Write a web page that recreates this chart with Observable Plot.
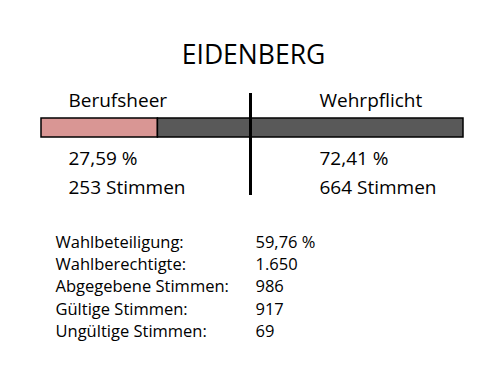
<!DOCTYPE html>
<html><head><meta charset="utf-8">
<script src="https://cdn.jsdelivr.net/npm/d3@7"></script>
<script src="https://cdn.jsdelivr.net/npm/@observablehq/plot@0.6"></script>
<style>body{margin:0;background:#fff}</style>
</head><body><div id="chart"></div>
<script>
const title = "EIDENBERG";
const options = ["Berufsheer", "Wehrpflicht"];
const shares = [27.59, 72.41];
const votes = [253, 664];
const colors = ["#d99694", "#595959"];
const statLabels = ["Wahlbeteiligung:", "Wahlberechtigte:", "Abgegebene Stimmen:", "Gültige Stimmen:", "Ungültige Stimmen:"];
const statValues = ["59,76 %", "1.650", "986", "917", "69"];
const threshold = 50;

let acc = 0;
const segs = options.map((o, i) => { const s = {option: o, x1: acc, x2: acc + shares[i], color: colors[i]}; acc += shares[i]; return s; });
const fmt = v => v.toFixed(2).replace(".", ",") + " %";
const font = "Open Sans, sans-serif";
const colX = [68, 319];

const marks = [
  Plot.text([title], {text: d => d, frameAnchor: "top-left", dx: 253, dy: 55, textAnchor: "middle", lineAnchor: "middle", fontSize: 26.5, fill: "#000"}),
  Plot.barX(segs, {x1: "x1", x2: "x2", fill: "color", stroke: "#000", strokeWidth: 1.5, insetTop: 118, insetBottom: 238}),
  Plot.ruleX([threshold], {stroke: "#000", strokeWidth: 3, insetTop: 93, insetBottom: 180, dx: -2}),
];
options.forEach((o, i) => {
  marks.push(Plot.text([o], {text: d => d, frameAnchor: "top-left", dx: colX[i], dy: 100, textAnchor: "start", lineAnchor: "middle", fontSize: 19, fill: "#000"}));
  marks.push(Plot.text([fmt(shares[i])], {text: d => d, frameAnchor: "top-left", dx: colX[i], dy: 158, textAnchor: "start", lineAnchor: "middle", fontSize: 19, fill: "#000"}));
  marks.push(Plot.text([votes[i] + " Stimmen"], {text: d => d, frameAnchor: "top-left", dx: colX[i], dy: 187, textAnchor: "start", lineAnchor: "middle", fontSize: 19, fill: "#000"}));
});
statLabels.forEach((l, i) => {
  marks.push(Plot.text([l], {text: d => d, frameAnchor: "top-left", dx: 55, dy: 242 + i * 22.3, textAnchor: "start", lineAnchor: "middle", fontSize: 16.5, fill: "#000"}));
  marks.push(Plot.text([statValues[i]], {text: d => d, frameAnchor: "top-left", dx: 255, dy: 242 + i * 22.3, textAnchor: "start", lineAnchor: "middle", fontSize: 16.5, fill: "#000"}));
});

const chart = Plot.plot({
  width: 500, height: 375, margin: 0,
  x: {domain: [0, 100], range: [41, 463], axis: null},
  style: {fontFamily: font, background: "#fff"},
  marks
});
document.getElementById("chart").append(chart);
</script></body></html>
